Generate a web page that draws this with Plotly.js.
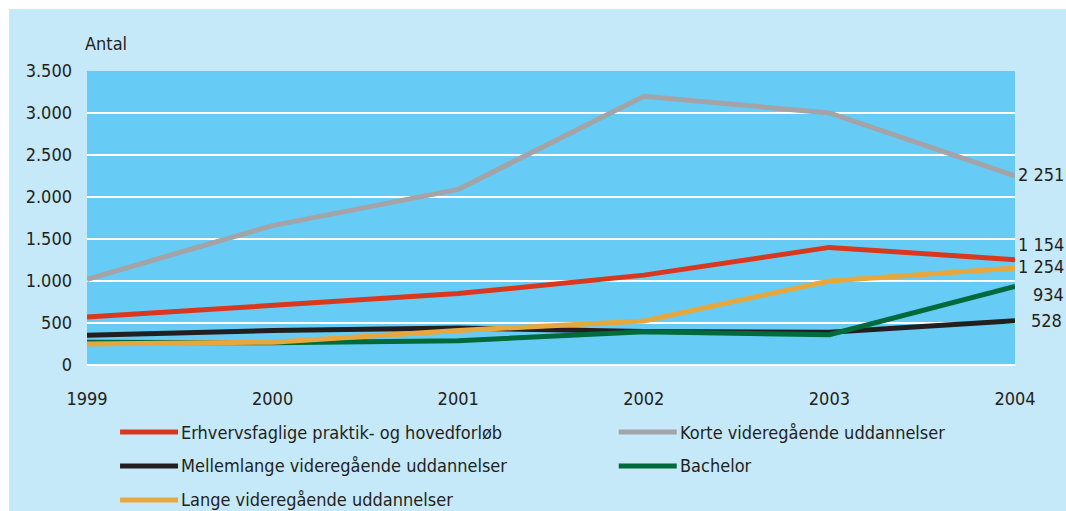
<!DOCTYPE html>
<html>
<head>
<meta charset="utf-8">
<script src="https://cdn.plot.ly/plotly-3.0.1.min.js"></script>
<style>
  html, body { margin: 0; padding: 0; background: #ffffff; width: 1066px; height: 511px; overflow: hidden; }
  #chart { position: absolute; left: 9px; top: 9px; width: 1057px; height: 502px; }
</style>
</head>
<body>
<div id="chart"></div>
<script>
// ---- data ----
const years = [1999, 2000, 2001, 2002, 2003, 2004];
const seriesNames = [
  "Erhvervsfaglige praktik- og hovedforløb",
  "Korte videregående uddannelser",
  "Mellemlange videregående uddannelser",
  "Bachelor",
  "Lange videregående uddannelser"
];
const erhvervsfaglige = [570, 710, 850, 1070, 1400, 1254];
const korte = [1020, 1660, 2090, 3200, 3000, 2251];
const mellemlange = [355, 410, 440, 400, 390, 528];
const bachelor = [270, 265, 290, 395, 360, 934];
const lange = [250, 272, 410, 525, 1000, 1154];
const endLabels = ["1 154", "2 251", "528", "934", "1 254"];
const yTickValues = [0, 500, 1000, 1500, 2000, 2500, 3000, 3500];
const yAxisLabel = "Antal";

// ---- styles ----
const values = [erhvervsfaglige, korte, mellemlange, bachelor, lange];
const colors = ["#D9381E", "#A3A3A8", "#231F20", "#006A3B", "#E6A83E"];
const drawOrder = [1, 0, 2, 3, 4];
const labelShift = [[1, 15], [1, 1], [14, 0], [16, -8], [1, 2]];
const legendPos = [[0.0356, -0.228], [0.573, -0.228], [0.0356, -0.3435], [0.573, -0.3435], [0.0356, -0.459]];
const legendLineLen = 0.0625;
const textColor = "#231F20";
const font = "'Liberation Sans Narrow', 'DejaVu Sans Condensed', 'Liberation Sans', sans-serif";
const fs = 18;

const traces = drawOrder.map(i => ({
  type: "scatter",
  mode: "lines",
  x: years,
  y: values[i],
  name: seriesNames[i],
  line: { color: colors[i], width: 5 },
  hoverinfo: "x+y+name",
  showlegend: false
}));

const annotations = [{
  xref: "paper", yref: "paper", x: -0.004, y: 1.092,
  xanchor: "left", yanchor: "middle", showarrow: false,
  text: yAxisLabel, font: { family: font, size: fs, color: textColor }
}];
values.forEach((v, i) => {
  annotations.push({
    xref: "x", yref: "y", x: years[years.length - 1], y: v[v.length - 1],
    xanchor: "left", yanchor: "middle", showarrow: false,
    xshift: labelShift[i][0], yshift: labelShift[i][1],
    text: endLabels[i], font: { family: font, size: fs, color: textColor }
  });
});

const shapes = [];
seriesNames.forEach((n, i) => {
  const [lx, ly] = legendPos[i];
  shapes.push({
    type: "line", xref: "paper", yref: "paper",
    x0: lx, x1: lx + legendLineLen, y0: ly, y1: ly,
    line: { color: colors[i], width: 5 }
  });
  annotations.push({
    xref: "paper", yref: "paper", x: lx + legendLineLen + 0.001, y: ly,
    xanchor: "left", yanchor: "middle", showarrow: false,
    text: n, font: { family: font, size: fs, color: textColor }
  });
});

const layout = {
  width: 1057, height: 502,
  margin: { l: 78, r: 51, t: 62, b: 146 },
  paper_bgcolor: "#C6E9F9",
  plot_bgcolor: "#66CCF5",
  separators: ",.",
  font: { family: font, size: fs, color: textColor },
  showlegend: false,
  xaxis: {
    range: [1999, 2004],
    tickvals: years,
    ticktext: years.map(String),
    showgrid: false, zeroline: false, showline: false,
    ticks: "", ticklabelstandoff: 21,
    tickfont: { family: font, size: fs, color: textColor },
    fixedrange: true
  },
  yaxis: {
    range: [0, 3500],
    tickvals: yTickValues,
    tickformat: ",d",
    showgrid: true, gridcolor: "#FFFFFF", gridwidth: 2,
    zeroline: true, zerolinecolor: "#FFFFFF", zerolinewidth: 2,
    showline: false, ticks: "", ticklabelstandoff: 14,
    tickfont: { family: font, size: fs, color: textColor },
    fixedrange: true
  },
  shapes: shapes,
  annotations: annotations
};

Plotly.newPlot("chart", traces, layout, { displayModeBar: false, staticPlot: true });
</script>
</body>
</html>
